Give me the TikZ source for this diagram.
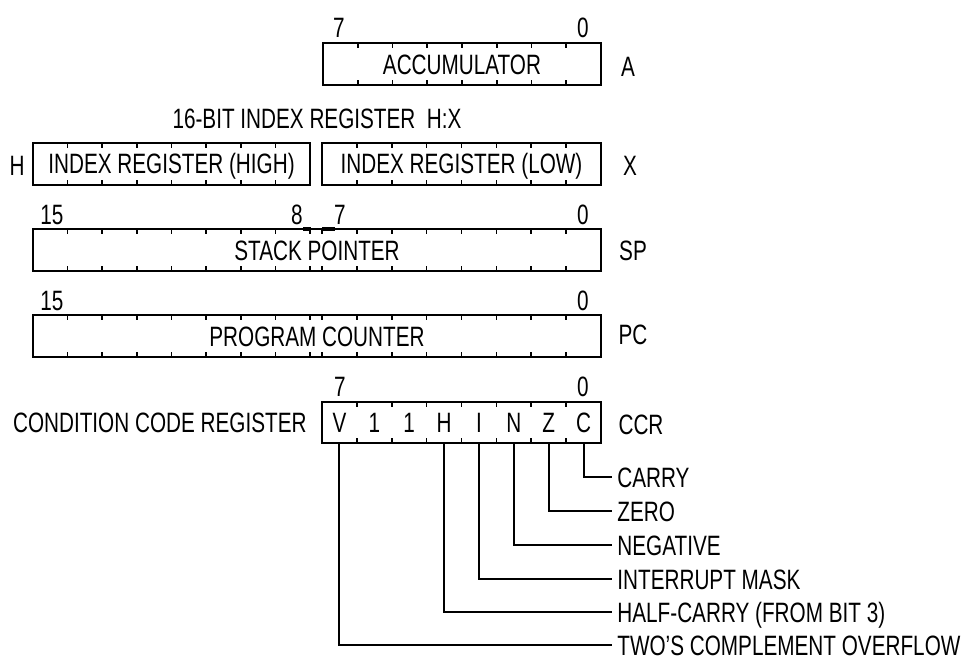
\documentclass[tikz,border=0pt]{standalone}
\usepackage{fontspec}
\setmainfont[FakeStretch=0.74]{Liberation Sans}
\usetikzlibrary{positioning,calc}
\tikzset{
    txt/.style={
        inner sep=2.5pt,
        text height=10pt,
        text depth=0pt,
        font=\fontsize{14}{16}\selectfont
    },
    regbox/.style={
        txt,
        rectangle,
        draw,
        line width=1pt,
        outer sep=0pt,
        minimum width=#1*0.5pt,
        minimum height=21pt,
        text centered
    },
    bitnum/.style={
        txt
    },
    flaglabel/.style={
        txt,
        anchor=west
    },
    tickmark/.style={
        line width=0.8pt
    },
    flagline/.style={
        line width=1pt
    }
}

\begin{document}
\begin{tikzpicture}[x=0.5pt,y=-0.5pt]
        \useasboundingbox (0,0) rectangle (965,659);

        % Accumulator
        \node[regbox=278] (acc) at (462,64) {ACCUMULATOR};
        \node[bitnum] (acc7) at (339,27) {7};
        \node[bitnum] (acc0) at (583,27) {0};
        \node[txt] (accname) at (628,66) {A};
        \foreach \k in {1,...,7} {
            \draw[tickmark] ($(acc.north west)!\k/8!(acc.north east)$) -- ++(0,5);
            \draw[tickmark] ($(acc.south west)!\k/8!(acc.south east)$) -- ++(0,-5);
        }

        % Index register H:X
        \node[txt] (hxtitle) at (317,118) {16-BIT INDEX REGISTER\ \ H:X};
        \node[regbox=277] (hreg) at (171.5,163.5) {INDEX REGISTER (HIGH)};
        \node[regbox=279] (xreg) at (461.5,163.5) {INDEX REGISTER (LOW)};
        \node[txt] (hname) at (17,165) {H};
        \node[txt] (xname) at (630,165) {X};
        \foreach \r in {hreg,xreg} {
            \foreach \k in {1,...,7} {
                \draw[tickmark] ($(\r.north west)!\k/8!(\r.north east)$) -- ++(0,5);
                \draw[tickmark] ($(\r.south west)!\k/8!(\r.south east)$) -- ++(0,-5);
            }
        }

        % Stack pointer
        \node[regbox=568] (sp) at (317,250) {STACK POINTER};
        \node[bitnum] (sp15) at (52,214) {15};
        \node[bitnum] (sp8) at (297,214) {8};
        \node[bitnum] (sp7) at (340,214) {7};
        \node[bitnum] (sp0) at (583,214) {0};
        \node[txt] (spname) at (633,250) {SP};
        \draw[line width=1.8pt] ($(sp.north west)+(270,0)$) -- ++(8,0);
        \draw[line width=1.8pt] ($(sp.north west)+(289,0)$) -- ++(13,0);

        % Program counter
        \node[regbox=568] (pc) at (317,336) {PROGRAM COUNTER};
        \node[bitnum] (pc15) at (52,300) {15};
        \node[bitnum] (pc0) at (583,300) {0};
        \node[txt] (pcname) at (633,334) {PC};

        % Ticks of the 16-bit registers
        \foreach \r in {sp,pc} {
            \foreach \k in {1,...,8} {
                \draw[tickmark] ($(\r.north west)+(\k*34.625,0)$) -- ++(0,5);
                \draw[tickmark] ($(\r.south west)+(\k*34.625,0)$) -- ++(0,-5);
                \draw[tickmark] ($(\r.north east)+(-\k*34.875,0)$) -- ++(0,5);
                \draw[tickmark] ($(\r.south east)+(-\k*34.875,0)$) -- ++(0,-5);
            }
        }

        % Condition code register
        \node[regbox=279,minimum height=20.5pt] (ccr) at (461.5,422.5) {};
        \node[bitnum] (ccr7) at (340,386) {7};
        \node[bitnum] (ccr0) at (583,386) {0};
        \node[txt] (ccrname) at (641,424) {CCR};
        \node[txt,anchor=east] (ccrtitle) at (312,422) {CONDITION CODE REGISTER};
        \foreach \b [count=\i from 0] in {V,1,1,H,I,N,Z,C}
            \node[txt] (cell\i) at ($(ccr.west)!{(\i+0.5)/8}!(ccr.east)$) {\b};
        \foreach \k in {1,...,7} {
            \draw[tickmark] ($(ccr.north west)!\k/8!(ccr.north east)$) -- ++(0,5);
            \draw[tickmark] ($(ccr.south west)!\k/8!(ccr.south east)$) -- ++(0,-5);
        }

        % Flag descriptions
        \node[flaglabel] (carry) at (612,477) {CARRY};
        \node[flaglabel] (zero) at (612,511) {ZERO};
        \node[flaglabel] (neg) at (612,545) {NEGATIVE};
        \node[flaglabel] (imask) at (612,579) {INTERRUPT MASK};
        \node[flaglabel] (half) at (612,612) {HALF-CARRY (FROM BIT 3)};
        \node[flaglabel] (ovf) at (612,645) {TWO’S COMPLEMENT OVERFLOW};

        \draw[flagline] (cell7 |- ccr.south) |- (carry.west);
        \draw[flagline] (cell6 |- ccr.south) |- (zero.west);
        \draw[flagline] (cell5 |- ccr.south) |- (neg.west);
        \draw[flagline] (cell4 |- ccr.south) |- (imask.west);
        \draw[flagline] (cell3 |- ccr.south) |- (half.west);
        \draw[flagline] (cell0 |- ccr.south) |- (ovf.west);
    \end{tikzpicture}
\end{document}
